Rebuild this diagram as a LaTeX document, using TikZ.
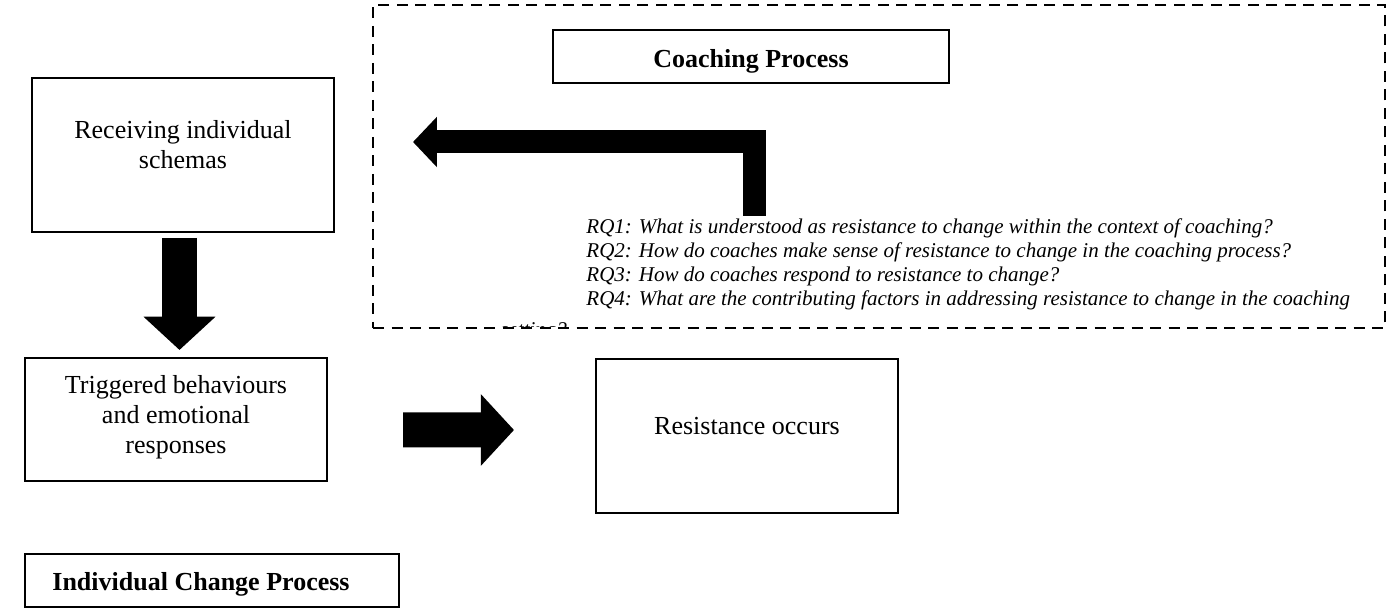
\documentclass[tikz,border=0pt]{standalone}
\usepackage{fontspec}
\setmainfont{Liberation Serif}
\usetikzlibrary{arrows.meta}
\newdimen\pu
\pu=0.4615pt

\begin{document}
\begin{tikzpicture}[x=0.4615pt, y=-0.4615pt]
\tikzset{procbox/.style={draw, line width=1.3pt, inner sep=0pt, outer sep=0pt}}
\tikzset{boxtext/.style={font=\fontsize{12}{13.85}\selectfont, align=center, inner sep=0pt}}
\tikzset{titletext/.style={font=\fontsize{12}{13.85}\selectfont\bfseries, inner sep=0pt}}
\tikzset{rqtext/.style={font=\fontsize{9.7}{11.08}\selectfont\itshape, align=left, inner sep=0pt}}
\tikzset{blockarrow/.style={line width=35\pu, -{Triangle[length=0pt .95, width=0pt 2]}}}
\tikzset{bentarrow/.style={line width=23\pu, line join=miter, -{Triangle[length=0pt 1.04, width=0pt 2.13]}}}
\useasboundingbox (0,0) rectangle (1391,608);
% coaching process
\node[draw, line width=1.3pt, dash pattern=on 11\pu off 7.5\pu, inner sep=0pt,
  minimum width=1012\pu, minimum height=323\pu] (coachframe) at (879,166.5) {};
\node[procbox, minimum width=396\pu, minimum height=53\pu] (coachbox) at (751,56.5) {};
\node[titletext] (coachlabel) at (751,61) {Coaching Process};
\node[rqtext, anchor=north west] (rq) at (586,218.5) {RQ1: What is understood as resistance to change within the context of coaching?\\
RQ2: How do coaches make sense of resistance to change in the coaching process?\\
RQ3: How do coaches respond to resistance to change?\\
RQ4: What are the contributing factors in addressing resistance to change in the coaching};
\begin{scope}
\clip (373,5) rectangle (1385,327);
\node[rqtext, anchor=base west] (rqtail) at (500,337) {setting?};
\end{scope}
% individual change process
\node[procbox, minimum width=302\pu, minimum height=154\pu] (recv) at (183,155) {};
\node[boxtext] (recvlabel) at (183,145) {Receiving individual\\schemas};
\node[procbox, minimum width=302\pu, minimum height=123\pu] (trig) at (176,419.5) {};
\node[boxtext] (triglabel) at (176,417) {Triggered behaviours\\and emotional\\responses};
\node[procbox, minimum width=302\pu, minimum height=154\pu] (res) at (747,436) {};
\node[boxtext] (reslabel) at (747,426) {Resistance occurs};
\node[procbox, minimum width=374\pu, minimum height=53\pu] (indivbox) at (212,580.5) {};
\node[titletext] (indivlabel) at (201,584) {Individual Change Process};
% arrows
\coordinate (bendfoot) at (754,216);
\draw[bentarrow, shorten >=79\pu] (bendfoot) |- ([yshift=13\pu]recv.east);
\draw[blockarrow, shorten <=6\pu, shorten >=8\pu] ([xshift=-3.5\pu]recv.south) -- ([xshift=-3.5\pu]recv.south |- trig.north);
\draw[blockarrow, shorten <=76\pu, shorten >=82\pu] ([yshift=-10.5\pu]trig.east) -- ([yshift=6\pu]res.west);
\end{tikzpicture}
\end{document}
